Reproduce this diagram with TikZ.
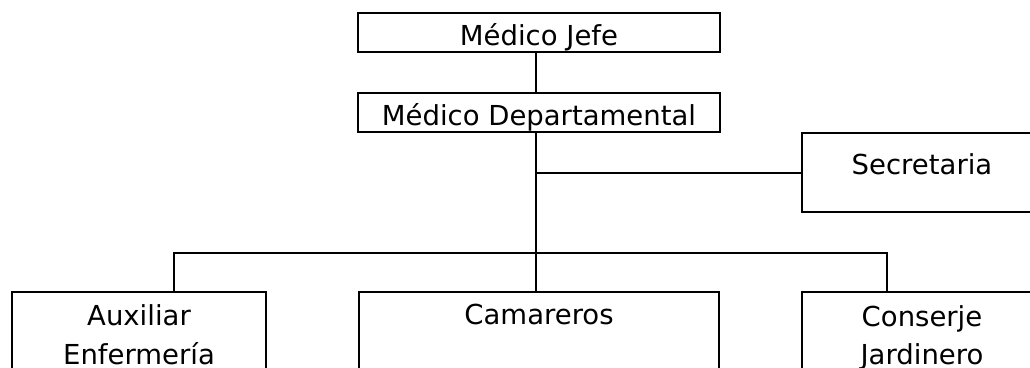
\documentclass[tikz,border=0pt]{standalone}
\usepackage{fontspec}
\setmainfont{DejaVu Sans}
\begin{document}
\begin{tikzpicture}[x=1pt,y=-1pt,
  box/.style={draw=black,line width=2pt,rectangle,inner sep=0pt},
  lbl/.style={anchor=base,inner sep=0pt,font=\fontsize{27.5}{38}\selectfont},
  conn/.style={draw=black,line width=2pt}]
\useasboundingbox (0,0) rectangle (1030,367);
\clip (0,0) rectangle (1030,367);
\fill[white] (0,0) rectangle (1030,367);
% boxes
\node[box,minimum width=362pt,minimum height=39pt] (jefe) at (539,32.5) {};
\node[box,minimum width=362pt,minimum height=39pt] (dept) at (539,112.5) {};
\node[box,minimum width=240pt,minimum height=79pt] (sec) at (922,172.5) {};
\node[box,minimum width=254pt,minimum height=120pt] (aux) at (139,352) {};
\node[box,minimum width=360pt,minimum height=120pt] (cam) at (539,352) {};
\node[box,minimum width=240pt,minimum height=120pt] (cons) at (922,352) {};
% labels
\node[lbl] (tjefe) at (539,45) {Médico Jefe};
\node[lbl] (tdept) at (539,125) {Médico Departamental};
\node[lbl] (tsec) at (922,174) {Secretaria};
\node[lbl] (taux1) at (139,325) {Auxiliar};
\node[lbl] (taux2) at (139,364) {Enfermería};
\node[lbl] (tcam) at (539,324) {Camareros};
\node[lbl] (tcons1) at (922,326) {Conserje};
\node[lbl] (tcons2) at (922,364) {Jardinero};
% connector guides
\coordinate (trunk) at (536,0);
\coordinate (bus) at (0,253);
\coordinate (busL) at (174,0);
\coordinate (busR) at (887,0);
% connectors
\draw[conn] (jefe.south -| trunk) -- (dept.north -| trunk);
\draw[conn] (dept.south -| trunk) -- (cam.north -| trunk);
\draw[conn] (trunk |- sec.west) -- (sec.west);
\draw[conn] (aux.north -| busL) -- (busL |- bus) -- (busR |- bus) -- (cons.north -| busR);
\end{tikzpicture}
\end{document}
